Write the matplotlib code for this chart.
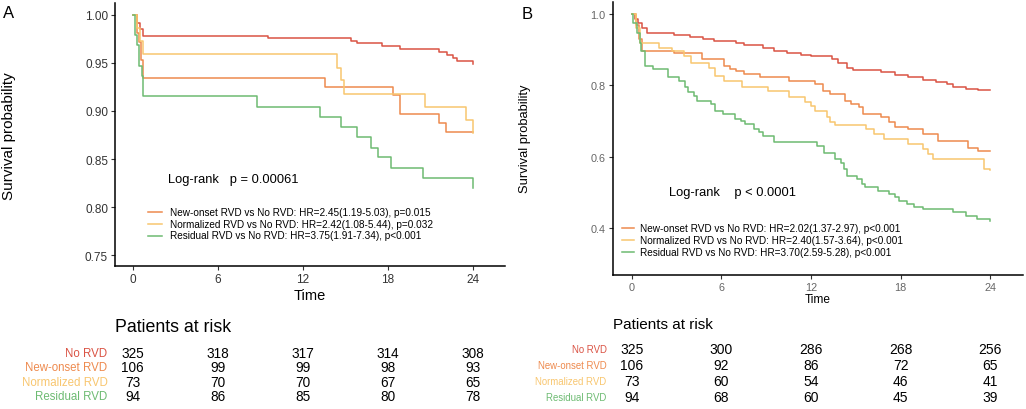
import matplotlib
matplotlib.use("Agg")
import matplotlib.pyplot as plt

plt.rcParams['font.family'] = ['Liberation Sans', 'DejaVu Sans']

W, H = 1026, 410

groups = ["No RVD", "New-onset RVD", "Normalized RVD", "Residual RVD"]
colors = ["#DA5344", "#EE8A4E", "#F8C66F", "#6DBB72"]
time_ticks = [0, 6, 12, 18, 24]

# ---------------- Panel A data ----------------
a_t_no = [0, 0.3, 0.5, 0.7, 9.57, 15.4, 15.8, 17.6, 18.9, 21.6, 22.2, 22.6, 22.9, 24]
a_s_no = [1.0, 0.991, 0.985, 0.978, 0.976, 0.973, 0.970, 0.967, 0.964, 0.961, 0.958, 0.955, 0.952, 0.949]
a_t_new = [0, 0.3, 0.45, 0.6, 0.75, 13.6, 18.35, 18.9, 21.6, 22.1, 24]
a_s_new = [1.0, 0.981, 0.972, 0.953, 0.934, 0.925, 0.916, 0.897, 0.887, 0.878, 0.878]
a_t_norm = [0, 0.3, 0.5, 0.75, 14.4, 14.7, 14.9, 20.6, 23.5, 24]
a_s_norm = [1.0, 0.986, 0.973, 0.959, 0.945, 0.932, 0.918, 0.904, 0.891, 0.877]
a_t_res = [0, 0.15, 0.33, 0.47, 0.63, 0.75, 8.75, 13.2, 14.7, 15.8, 16.8, 17.3, 18.2, 20.5, 24]
a_s_res = [1.0, 0.979, 0.968, 0.947, 0.936, 0.915, 0.904, 0.894, 0.883, 0.873, 0.862, 0.852, 0.841, 0.830, 0.820]

a_legend = ["New-onset RVD vs No RVD: HR=2.45(1.19-5.03), p=0.015",
            "Normalized RVD vs No RVD: HR=2.42(1.08-5.44), p=0.032",
            "Residual RVD vs No RVD: HR=3.75(1.91-7.34), p<0.001"]
a_logrank = "Log-rank   p = 0.00061"
a_risk = [[325, 318, 317, 314, 308],
          [106, 99, 99, 98, 93],
          [73, 70, 70, 67, 65],
          [94, 86, 85, 80, 78]]
a_yticks = [0.75, 0.80, 0.85, 0.90, 0.95, 1.00]

# ---------------- Panel B data ----------------
b_t_no = [0, 0.25, 0.45, 0.7, 1.0, 2.8, 3.9, 4.8, 5.5, 7.0, 7.5, 8.8, 9.5, 10.4, 11.3,
          12.0, 13.4, 13.8, 14.4, 14.8, 16.7, 17.6, 18.5, 19.5, 20.4, 21.1, 21.5, 22.4, 23.2, 24]
b_s_no = [1.0, 0.985, 0.975, 0.96, 0.946, 0.94, 0.936, 0.930, 0.924, 0.920, 0.913, 0.905, 0.897, 0.890, 0.885,
          0.883, 0.874, 0.864, 0.850, 0.844, 0.836, 0.829, 0.822, 0.816, 0.810, 0.803, 0.796, 0.791, 0.787, 0.787]
b_t_new = [0, 0.3, 0.5, 0.7, 2.8, 4.7, 6.2, 6.6, 7.0, 7.5, 8.6, 10.5, 12.3, 12.8,
           13.3, 14.3, 14.7, 15.2, 15.5, 16.7, 17.2, 17.6, 18.5, 19.5, 20.5, 22.5, 23.2, 24]
b_s_new = [1.0, 0.97, 0.93, 0.897, 0.892, 0.874, 0.855, 0.846, 0.841, 0.831, 0.822, 0.813, 0.803, 0.785,
           0.775, 0.757, 0.748, 0.738, 0.719, 0.710, 0.696, 0.684, 0.677, 0.663, 0.644, 0.625, 0.616, 0.615]
b_t_norm = [0, 0.3, 0.55, 1.8, 2.7, 3.5, 4.0, 5.2, 5.6, 6.2, 7.4, 9.1, 10.5, 11.6, 12.0,
            12.3, 13.1, 13.3, 13.6, 15.7, 16.2, 16.9, 18.5, 19.5, 19.8, 20.2, 23.6, 24]
b_s_norm = [1.0, 0.96, 0.92, 0.906, 0.897, 0.883, 0.864, 0.850, 0.827, 0.813, 0.794, 0.785, 0.766, 0.752, 0.743,
            0.728, 0.71, 0.696, 0.688, 0.677, 0.663, 0.649, 0.635, 0.621, 0.607, 0.593, 0.565, 0.563]
b_t_res = [0, 0.1, 0.35, 0.55, 0.65, 0.9, 1.45, 2.45, 3.2, 3.6, 3.8, 4.2, 4.4, 5.3, 5.6, 6.1,
           6.9, 7.3, 7.6, 8.2, 8.5, 8.8, 9.5, 12.4, 12.9, 13.6, 14.0, 14.2, 14.4, 15.1, 15.4,
           15.6, 16.5, 17.2, 17.6, 17.9, 18.4, 18.9, 19.5, 21.5, 22.4, 23.1, 24]
b_s_res = [1.0, 0.975, 0.948, 0.920, 0.897, 0.855, 0.845, 0.822, 0.813, 0.795, 0.78, 0.771, 0.757, 0.748, 0.728, 0.719,
           0.705, 0.700, 0.691, 0.677, 0.668, 0.658, 0.640, 0.630, 0.611, 0.593, 0.583, 0.565, 0.546, 0.537, 0.522,
           0.513, 0.504, 0.494, 0.485, 0.476, 0.466, 0.457, 0.452, 0.443, 0.434, 0.424, 0.420]

b_legend = ["New-onset RVD vs No RVD: HR=2.02(1.37-2.97), p<0.001",
            "Normalized RVD vs No RVD: HR=2.40(1.57-3.64), p<0.001",
            "Residual RVD vs No RVD: HR=3.70(2.59-5.28), p<0.001"]
b_logrank = "Log-rank    p < 0.0001"
b_risk = [[325, 300, 286, 268, 256],
          [106, 92, 86, 72, 65],
          [73, 60, 54, 46, 41],
          [94, 68, 60, 45, 39]]
b_yticks = [0.4, 0.6, 0.8, 1.0]

fig = plt.figure(figsize=(W / 100, H / 100), dpi=100)


def fx(x):
    return x / W


def fy(y):
    return 1 - y / H


def make_axes(left, right, top, bottom):
    return fig.add_axes([fx(left), fy(bottom), fx(right - left), (bottom - top) / H])


def style_axes(ax, tick_size, tick_color):
    for s in ["top", "right"]:
        ax.spines[s].set_visible(False)
    for s in ["left", "bottom"]:
        ax.spines[s].set_linewidth(1.1)
        ax.spines[s].set_color("black")
    ax.tick_params(axis="both", direction="out", length=3, width=0.8, color="#333333",
                   labelsize=tick_size, labelcolor=tick_color, pad=2)


# ---------------- Panel A ----------------
axA = make_axes(115, 505, 4, 267)
for t, s, c in zip([a_t_no, a_t_new, a_t_norm, a_t_res],
                   [a_s_no, a_s_new, a_s_norm, a_s_res], colors):
    axA.step(t, s, where="post", color=c, lw=1.1)
axA.set_xlim(-1.25, 26.28)
axA.set_ylim(0.739, 1.012)
axA.set_xticks(time_ticks)
axA.set_yticks(a_yticks)
axA.set_yticklabels([f"{v:.2f}" for v in a_yticks])
style_axes(axA, 8.5, "#333333")

fig.text(fx(9), fy(136), "Survival probability", rotation=90, ha="center", va="center", fontsize=11)
fig.text(fx(310), fy(296), "Time", ha="center", va="center", fontsize=10.5)
fig.text(fx(168), fy(180), a_logrank, ha="left", va="center", fontsize=9.3)
for i, (lab, yy) in enumerate(zip(a_legend, [213, 224.5, 236.5])):
    fig.lines.append(plt.Line2D([fx(148), fx(162)], [fy(yy), fy(yy)], color=colors[i + 1], lw=1.1,
                                transform=fig.transFigure))
    fig.text(fx(170), fy(yy), lab, ha="left", va="center", fontsize=7.2)
fig.text(fx(9), fy(14), "A", ha="center", va="center", fontsize=12)

# risk table A
fig.text(fx(115), fy(328), "Patients at risk", ha="left", va="center", fontsize=12.8)
rowsA = [354, 368.5, 383.5, 397.5]
for r, (g, c, yy) in enumerate(zip(groups, colors, rowsA)):
    fig.text(fx(107.5), fy(yy), g, ha="right", va="center", fontsize=8.3, color=c)
    for k, tt in enumerate(time_ticks):
        xd = axA.transData.transform((tt, 0))[0]
        fig.text(xd / fig.dpi / fig.get_figwidth(), fy(yy), str(a_risk[r][k]),
                 ha="center", va="center", fontsize=9.8)

# ---------------- Panel B ----------------
axB = make_axes(612.7, 1023, 3, 275.7)
for t, s, c in zip([b_t_no, b_t_new, b_t_norm, b_t_res],
                   [b_s_no, b_s_new, b_s_norm, b_s_res], colors):
    axB.step(t, s, where="post", color=c, lw=1.1)
axB.set_xlim(-1.27, 26.19)
axB.set_ylim(0.268, 1.034)
axB.set_xticks(time_ticks)
axB.set_yticks(b_yticks)
axB.set_yticklabels([f"{v:.1f}" for v in b_yticks])
style_axes(axB, 7.8, "#666666")

fig.text(fx(525), fy(139), "Survival probability", rotation=90, ha="center", va="center", fontsize=9.3)
fig.text(fx(818), fy(300), "Time", ha="center", va="center", fontsize=8.6)
fig.text(fx(669), fy(193), b_logrank, ha="left", va="center", fontsize=9.3)
for i, (lab, yy) in enumerate(zip(b_legend, [229.3, 241.3, 253.3])):
    fig.lines.append(plt.Line2D([fx(622), fx(634)], [fy(yy), fy(yy)], color=colors[i + 1], lw=1.1,
                                transform=fig.transFigure))
    fig.text(fx(640), fy(yy), lab, ha="left", va="center", fontsize=7.2)
fig.text(fx(527), fy(14.5), "B", ha="center", va="center", fontsize=12)

fig.text(fx(613), fy(325), "Patients at risk", ha="left", va="center", fontsize=11)
rowsB = [350, 366, 382.3, 398.3]
for r, (g, c, yy) in enumerate(zip(groups, colors, rowsB)):
    fig.text(fx(606.7), fy(yy), g, ha="right", va="center", fontsize=6.9, color=c)
    for k, tt in enumerate(time_ticks):
        xd = axB.transData.transform((tt, 0))[0]
        fig.text(xd / fig.dpi / fig.get_figwidth(), fy(yy), str(b_risk[r][k]),
                 ha="center", va="center", fontsize=10)

fig.savefig("out.png", dpi=100)
